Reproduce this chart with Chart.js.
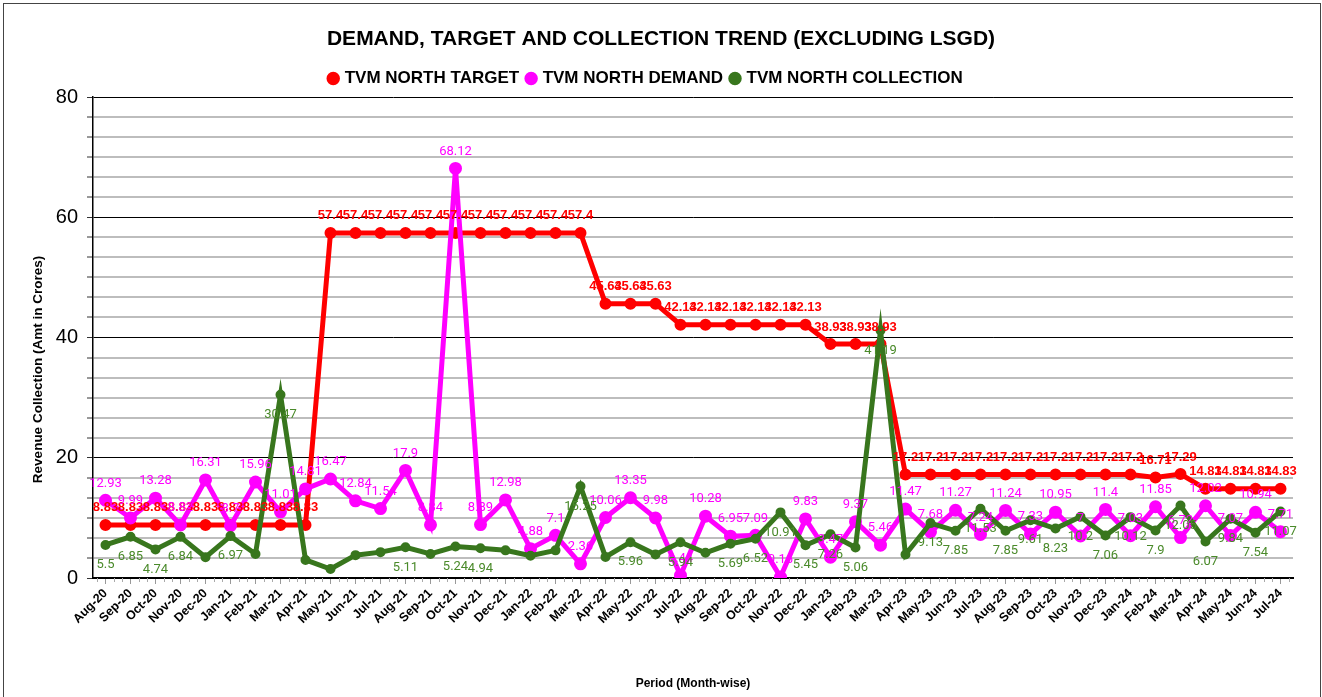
<!DOCTYPE html>
<html>
<head>
<meta charset="utf-8">
<title>Demand, Target and Collection Trend</title>
<script src="https://cdn.jsdelivr.net/npm/chart.js@4.4.1/dist/chart.umd.min.js"></script>
<style>
    html, body { margin: 0; padding: 0; background: #fff; }
    #wrap { position: relative; width: 1322px; height: 697px; overflow: hidden; }
    #frame {
        position: absolute; left: 3px; top: 3px; width: 1318px; height: 710px;
        border: 1px solid #444; box-sizing: border-box; pointer-events: none;
    }
    canvas { display: block; }
</style>
</head>
<body>
<div id="wrap">
    <canvas id="trendChart" width="1322" height="697"></canvas>
    <div id="frame"></div>
</div>
<script>
// Periods on the x axis
const months = [
    'Aug-20', 'Sep-20', 'Oct-20', 'Nov-20', 'Dec-20',
    'Jan-21', 'Feb-21', 'Mar-21', 'Apr-21', 'May-21', 'Jun-21', 'Jul-21', 'Aug-21', 'Sep-21', 'Oct-21', 'Nov-21', 'Dec-21',
    'Jan-22', 'Feb-22', 'Mar-22', 'Apr-22', 'May-22', 'Jun-22', 'Jul-22', 'Aug-22', 'Sep-22', 'Oct-22', 'Nov-22', 'Dec-22',
    'Jan-23', 'Feb-23', 'Mar-23', 'Apr-23', 'May-23', 'Jun-23', 'Jul-23', 'Aug-23', 'Sep-23', 'Oct-23', 'Nov-23', 'Dec-23',
    'Jan-24', 'Feb-24', 'Mar-24', 'Apr-24', 'May-24', 'Jun-24', 'Jul-24'
];

// TVM North target
const targetValues = [
    8.83, 8.83, 8.83, 8.83, 8.83,
    8.83, 8.83, 8.83, 8.83, 57.4, 57.4, 57.4, 57.4, 57.4, 57.4, 57.4, 57.4,
    57.4, 57.4, 57.4, 45.63, 45.63, 45.63, 42.13, 42.13, 42.13, 42.13, 42.13, 42.13,
    38.93, 38.93, 38.93, 17.2, 17.2, 17.2, 17.2, 17.2, 17.2, 17.2, 17.2, 17.2,
    17.2, 16.71, 17.29, 14.83, 14.83, 14.83, 14.83
];

// TVM North demand
const demandValues = [
    12.93, 9.99, 13.28, 8.82, 16.31,
    8.7, 15.96, 11.01, 14.81, 16.47, 12.84, 11.54, 17.9, 8.84, 68.12, 8.89, 12.98,
    4.88, 7.1, 2.36, 10.06, 13.35, 9.98, 0.44, 10.28, 6.95, 7.09, 0.16, 9.83,
    3.47, 9.37, 5.46, 11.47, 7.68, 11.27, 7.24, 11.24, 7.33, 10.95, 7, 11.4,
    7.03, 11.85, 6.72, 12.02, 7.07, 10.94, 7.71
];

// TVM North collection
const collectionValues = [
    5.5, 6.85, 4.74, 6.84, 3.45,
    6.97, 4.0, 30.47, 3.0, 1.5, 3.8, 4.3, 5.11, 4.0, 5.24, 4.94, 4.6,
    3.7, 4.6, 15.25, 3.5, 5.96, 3.9, 5.94, 4.2, 5.69, 6.52, 10.91, 5.45,
    7.26, 5.06, 41.19, 3.9, 9.13, 7.85, 11.53, 7.85, 9.61, 8.23, 10.2, 7.06,
    10.12, 7.9, 12.05, 6.07, 9.84, 7.54, 11.07
];

// collection points that carry no value label in the original
const collectionUnlabelled = [4, 6, 8, 9, 10, 11, 13, 16, 17, 18, 20, 22, 24, 32];

const yTickLabels = [0, 20, 40, 60, 80];
const minorPerMajor = 6;

const chartTitle = 'DEMAND, TARGET AND COLLECTION TREND (EXCLUDING LSGD)';
const yTitle = 'Revenue Collection (Amt in Crores)';
const xTitle = 'Period (Month-wise)';

const FONT = '"Liberation Sans", Arial, sans-serif';
const RED = '#ff0000';
const MAGENTA = '#ff00ff';
const GREEN = '#38761d';

const yMajorStep = yTickLabels[1] - yTickLabels[0];
const isMajor = (v) => Math.abs(v / yMajorStep - Math.round(v / yMajorStep)) < 1e-6;

// draws the value above / below every point
const valueLabels = {
    id: 'valueLabels',
    afterDatasetsDraw(chart) {
        const ctx = chart.ctx;
        chart.data.datasets.forEach((ds, i) => {
            const opt = ds.valueLabel;
            if (!opt) return;
            const meta = chart.getDatasetMeta(i);
            ctx.save();
            ctx.font = opt.font;
            ctx.fillStyle = opt.color;
            ctx.textAlign = 'center';
            ctx.textBaseline = 'middle';
            meta.data.forEach((pt, j) => {
                if (opt.skip && opt.skip.includes(j)) return;
                ctx.fillText(String(ds.data[j]), pt.x, pt.y + opt.offset);
            });
            ctx.restore();
        });
    }
};

// chart title centred on the whole page, y title a bit below the middle
const titles = {
    id: 'titles',
    afterDraw(chart) {
        const ctx = chart.ctx;
        const area = chart.chartArea;
        ctx.save();
        ctx.fillStyle = '#000';
        ctx.textAlign = 'center';
        ctx.textBaseline = 'middle';
        ctx.font = 'bold 21px ' + FONT;
        ctx.fillText(chartTitle, chart.width / 2, 39);
        ctx.translate(38, (area.top + area.bottom) / 2 + 32);
        ctx.rotate(-Math.PI / 2);
        ctx.font = 'bold 13.5px ' + FONT;
        ctx.fillText(yTitle, 0, 0);
        ctx.restore();
    }
};

// small minor ticks between the categories on the x axis
const minorXTicks = {
    id: 'minorXTicks',
    afterDraw(chart) {
        const x = chart.scales.x;
        const ctx = chart.ctx;
        const step = x.getPixelForValue(1) - x.getPixelForValue(0);
        const y0 = chart.chartArea.bottom;
        ctx.save();
        ctx.strokeStyle = '#aaa';
        ctx.lineWidth = 1;
        ctx.beginPath();
        for (let i = -1; i < months.length; i++) {
            const base = x.getPixelForValue(0) + i * step;
            for (let k = 1; k < 3; k++) {
                const px = Math.round(base + k * step / 3) + 0.5;
                if (px < chart.chartArea.left || px > chart.chartArea.right) continue;
                ctx.moveTo(px, y0);
                ctx.lineTo(px, y0 + 4);
            }
        }
        ctx.stroke();
        ctx.restore();
    }
};

new Chart(document.getElementById('trendChart').getContext('2d'), {
    type: 'line',
    data: {
        labels: months,
        datasets: [
            {
                label: 'TVM NORTH TARGET',
                data: targetValues,
                borderColor: RED,
                backgroundColor: RED,
                pointBackgroundColor: RED,
                pointBorderColor: RED,
                borderWidth: 5,
                pointRadius: 3.5,
                tension: 0,
                order: 3,
                valueLabel: { color: RED, font: 'bold 13px ' + FONT, offset: -17 }
            },
            {
                label: 'TVM NORTH DEMAND',
                data: demandValues,
                borderColor: MAGENTA,
                backgroundColor: MAGENTA,
                pointBackgroundColor: MAGENTA,
                pointBorderColor: MAGENTA,
                borderWidth: 5,
                pointRadius: 4,
                tension: 0,
                order: 2,
                valueLabel: { color: MAGENTA, font: '13px Roboto, sans-serif', offset: -17 }
            },
            {
                label: 'TVM NORTH COLLECTION',
                data: collectionValues,
                borderColor: GREEN,
                backgroundColor: GREEN,
                pointBackgroundColor: GREEN,
                pointBorderColor: GREEN,
                borderWidth: 5,
                pointRadius: 2.5,
                tension: 0,
                order: 1,
                valueLabel: { color: '#4a8a2a', font: '13px Roboto, sans-serif', offset: 20, skip: collectionUnlabelled }
            }
        ]
    },
    options: {
        responsive: false,
        animation: false,
        layout: { padding: { left: 0, right: 29, top: 61, bottom: 0 } },
        plugins: {
            title: { display: false },
            legend: {
                display: true,
                labels: {
                    usePointStyle: true,
                    pointStyle: 'circle',
                    boxWidth: 6,
                    boxHeight: 6,
                    padding: 9,
                    color: '#000',
                    font: { family: FONT, size: 17, weight: 'bold' },
                    sort: (a, b) => a.datasetIndex - b.datasetIndex
                }
            },
            tooltip: { enabled: false }
        },
        scales: {
            x: {
                offset: true,
                afterFit: (scale) => { scale.height = 119; },
                grid: {
                    drawOnChartArea: false,
                    drawTicks: true,
                    tickLength: 6,
                    color: '#999'
                },
                border: { display: true, color: '#000', width: 2 },
                ticks: {
                    autoSkip: false,
                    maxRotation: 45,
                    minRotation: 45,
                    padding: 2,
                    color: '#000',
                    font: { family: FONT, size: 12.5, weight: 'bold' }
                },
                title: {
                    display: true,
                    text: xTitle,
                    color: '#000',
                    font: { family: FONT, size: 12, weight: 'bold' },
                    padding: { top: 0, bottom: 6 }
                }
            },
            y: {
                min: yTickLabels[0],
                max: yTickLabels[yTickLabels.length - 1],
                afterFit: (scale) => { scale.width = 93; },
                grid: {
                    color: (c) => isMajor(c.tick.value) ? '#000' : '#bdbdbd',
                    lineWidth: (c) => isMajor(c.tick.value) ? 1 : 2,
                    tickLength: 6,
                    tickColor: '#333',
                    tickWidth: 1
                },
                border: { display: true, color: '#000', width: 1.5 },
                ticks: {
                    stepSize: yMajorStep / minorPerMajor,
                    maxTicksLimit: 100,
                    padding: 9,
                    color: '#000',
                    font: { family: FONT, size: 20, lineHeight: 0.85 },
                    callback: (v) => {
                        const r = Math.round(v);
                        return isMajor(v) && yTickLabels.includes(r) ? String(r) : '';
                    }
                },
                title: { display: false }
            }
        }
    },
    plugins: [valueLabels, minorXTicks, titles]
});
</script>
</body>
</html>
